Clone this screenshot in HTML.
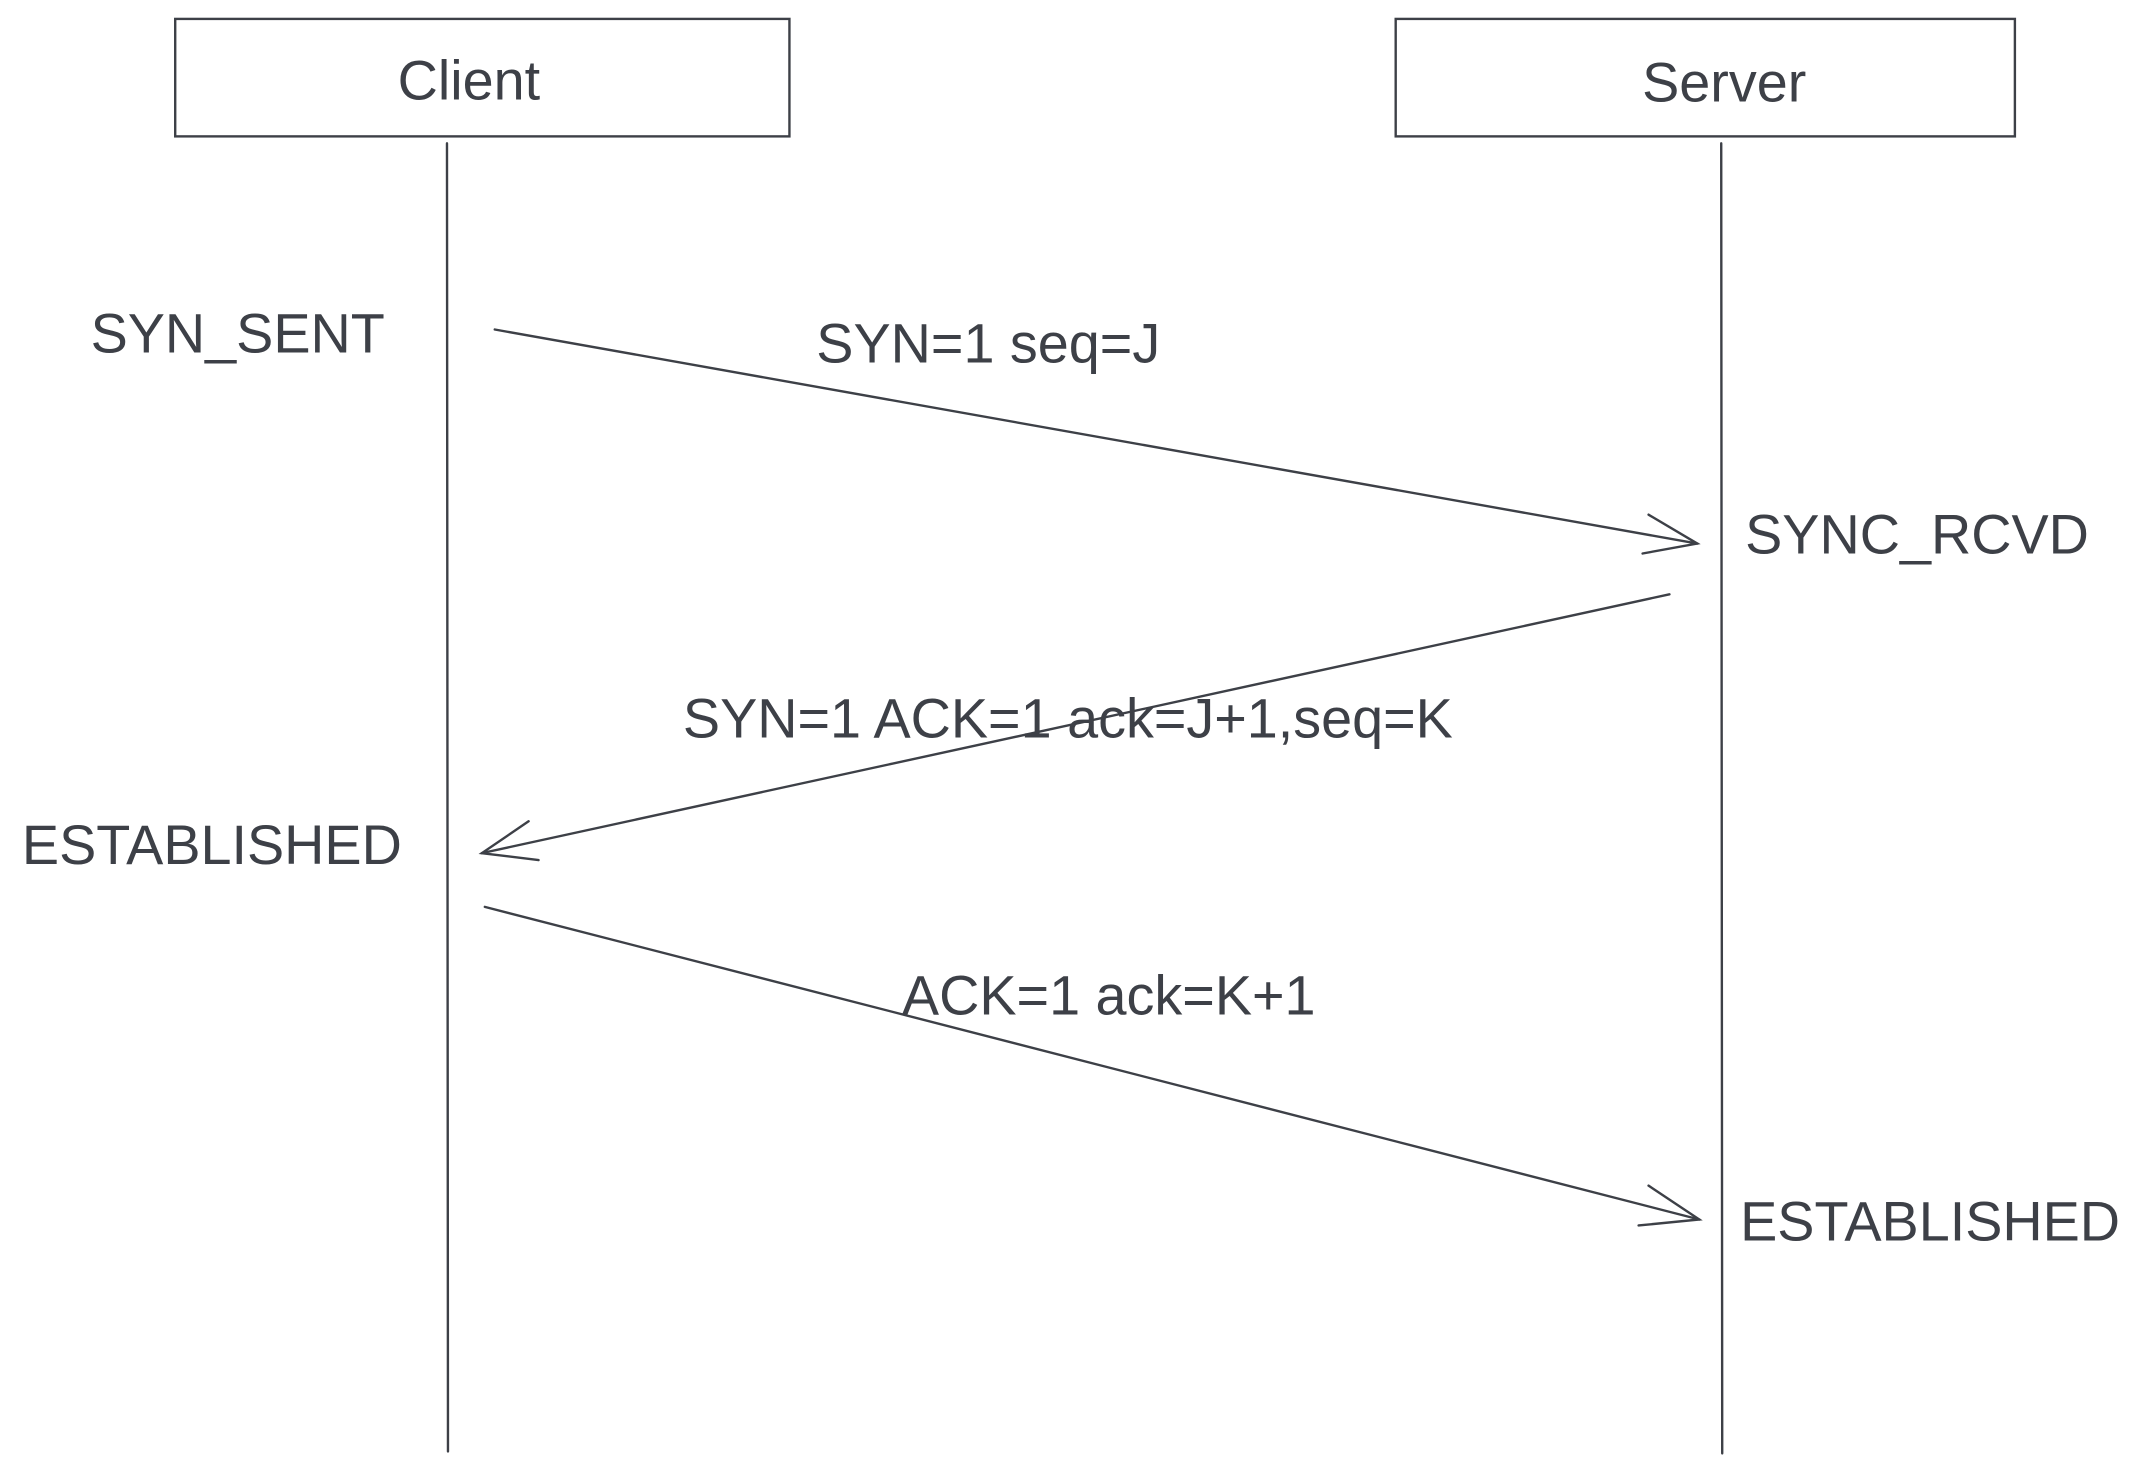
<!DOCTYPE html>
<html><head><meta charset="utf-8"><style>
html,body{margin:0;padding:0;background:#fff;}
svg{display:block}
text{font-family:"Liberation Sans",sans-serif;font-size:56px;fill:#3d4047}
</style></head><body>
<svg width="2141" height="1477" viewBox="0 0 2141 1477" xmlns="http://www.w3.org/2000/svg">
<g transform="scale(0.9955)">
<g fill="none" stroke="#3d4047" stroke-width="2.4" stroke-linecap="round">
<rect x="176" y="19" width="617" height="118"/>
<rect x="1402" y="19" width="622" height="118"/>
<line x1="449" y1="144" x2="450" y2="1458"/>
<line x1="1729" y1="144" x2="1730" y2="1460"/>
<line x1="497" y1="331" x2="1705" y2="546"/>
<polyline points="1656,517 1705,546 1650,556"/>
<line x1="1677" y1="597" x2="484" y2="857"/>
<polyline points="531,825 484,857 541,864"/>
<line x1="487" y1="911" x2="1707" y2="1225"/>
<polyline points="1656,1191 1707,1225 1646,1231"/>
</g>
<text x="471" y="100" text-anchor="middle">Client</text>
<text x="1732" y="102" text-anchor="middle">Server</text>
<text x="91" y="354">SYN_SENT</text>
<text x="820" y="364">SYN=1 seq=J</text>
<text x="1753" y="556">SYNC_RCVD</text>
<text x="686" y="741">SYN=1 ACK=1 ack=J+1,seq=K</text>
<text x="22" y="868">ESTABLISHED</text>
<text x="906" y="1019">ACK=1 ack=K+1</text>
<text x="1748" y="1246">ESTABLISHED</text>
</g>
</svg>
</body></html>
